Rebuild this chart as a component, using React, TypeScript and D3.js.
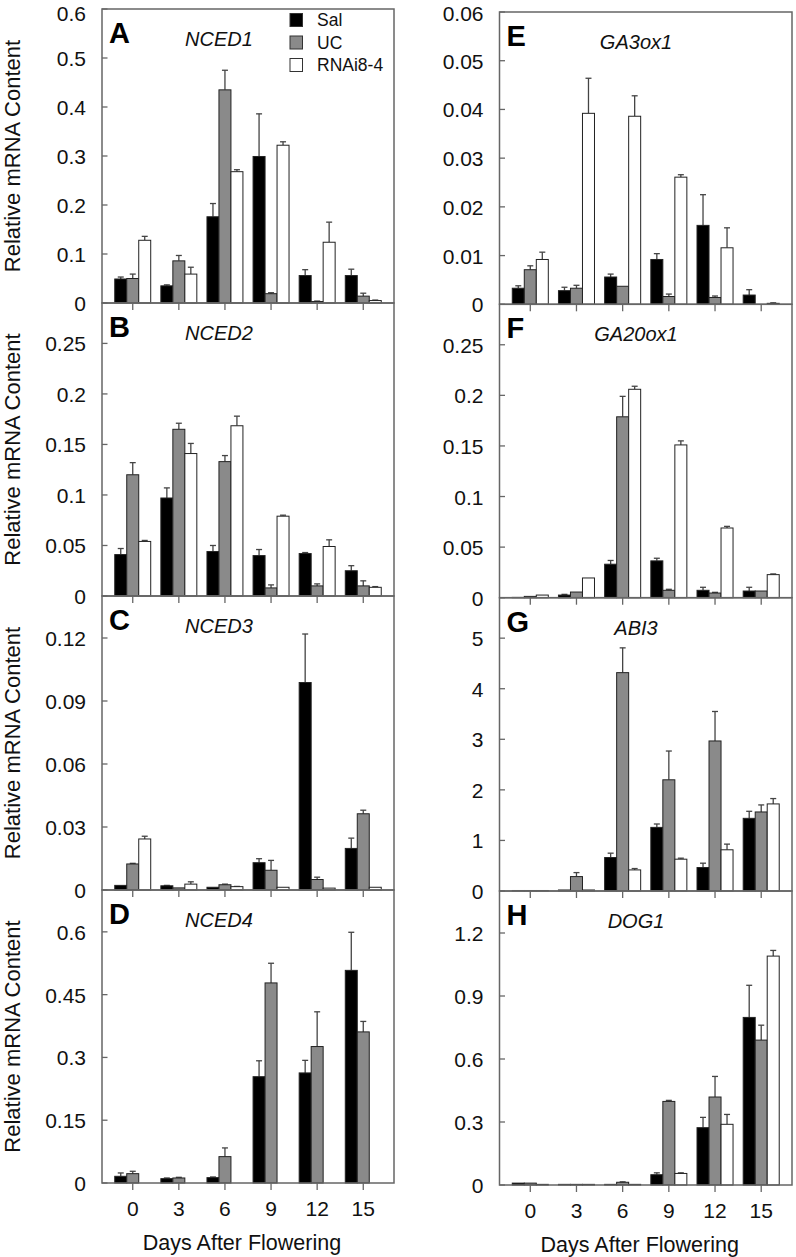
import React from "react";
import * as d3 from "d3";

const days = [0, 3, 6, 9, 12, 15];
const seriesNames = ["Sal", "UC", "RNAi8-4"];
const seriesFill = ["#000000", "#8a8a8a", "#ffffff"];

// Panel A NCED1
const nced1Sal = [0.049, 0.035, 0.176, 0.299, 0.056, 0.056];
const nced1SalErr = [0.004, 0.002, 0.027, 0.087, 0.012, 0.013];
const nced1UC = [0.05, 0.086, 0.435, 0.019, 0.003, 0.014];
const nced1UCErr = [0.009, 0.011, 0.04, 0.002, 0.001, 0.006];
const nced1RNAi = [0.128, 0.059, 0.268, 0.322, 0.124, 0.005];
const nced1RNAiErr = [0.008, 0.014, 0.004, 0.007, 0.041, 0.001];

// Panel B NCED2
const nced2Sal = [0.041, 0.097, 0.044, 0.04, 0.042, 0.025];
const nced2SalErr = [0.006, 0.01, 0.006, 0.006, 0.001, 0.005];
const nced2UC = [0.12, 0.165, 0.133, 0.008, 0.01, 0.01];
const nced2UCErr = [0.012, 0.006, 0.006, 0.003, 0.002, 0.005];
const nced2RNAi = [0.054, 0.141, 0.1685, 0.079, 0.049, 0.0086];
const nced2RNAiErr = [0.001, 0.01, 0.0095, 0.001, 0.0066, 0.0007];

// Panel C NCED3
const nced3Sal = [0.0022, 0.002, 0.0013, 0.013, 0.0988, 0.0198];
const nced3SalErr = [0, 0.0002, 0, 0.0019, 0.0231, 0.0049];
const nced3UC = [0.0124, 0.001, 0.0025, 0.0094, 0.005, 0.0363];
const nced3UCErr = [0.0003, 0, 0.0003, 0.0047, 0.0011, 0.0017];
const nced3RNAi = [0.0243, 0.0028, 0.0016, 0.0013, 0.0009, 0.0013];
const nced3RNAiErr = [0.0013, 0.0011, 0.0001, 0, 0, 0];

// Panel D NCED4
const nced4Sal = [0.016, 0.0104, 0.0128, 0.254, 0.263, 0.508];
const nced4SalErr = [0.008, 0.0016, 0.0016, 0.038, 0.03, 0.091];
const nced4UC = [0.0223, 0.012, 0.063, 0.478, 0.326, 0.361];
const nced4UCErr = [0.0057, 0.0016, 0.0208, 0.047, 0.083, 0.025];
const nced4RNAi = [0, 0, 0, 0, 0, 0];
const nced4RNAiErr = [0, 0, 0, 0, 0, 0];

// Panel E GA3ox1
const ga3Sal = [0.0033, 0.0028, 0.0056, 0.0092, 0.0162, 0.0019];
const ga3SalErr = [0.0005, 0.0007, 0.0006, 0.0012, 0.0063, 0.0011];
const ga3UC = [0.0071, 0.0033, 0.0037, 0.0016, 0.0014, 0];
const ga3UCErr = [0.0008, 0.0006, 0, 0.0005, 0.0003, 0];
const ga3RNAi = [0.0092, 0.0392, 0.0386, 0.0261, 0.0116, 0.0002];
const ga3RNAiErr = [0.0015, 0.0072, 0.0042, 0.0005, 0.0041, 0.0001];

// Panel F GA20ox1
const ga20Sal = [0.0003, 0.0026, 0.0331, 0.0364, 0.0073, 0.0066];
const ga20SalErr = [0, 0.0007, 0.0037, 0.0026, 0.003, 0.0037];
const ga20UC = [0.0013, 0.0056, 0.1788, 0.0073, 0.0046, 0.0066];
const ga20UCErr = [0, 0, 0.0202, 0.001, 0.0007, 0];
const ga20RNAi = [0.0026, 0.0195, 0.206, 0.151, 0.0689, 0.0228];
const ga20RNAiErr = [0, 0, 0.003, 0.004, 0.0016, 0.0007];

// Panel G ABI3
const abi3Sal = [0.01, 0.02, 0.662, 1.258, 0.464, 1.437];
const abi3SalErr = [0, 0, 0.086, 0.067, 0.086, 0.139];
const abi3UC = [0.01, 0.285, 4.318, 2.199, 2.967, 1.563];
const abi3UCErr = [0, 0.079, 0.49, 0.569, 0.583, 0.139];
const abi3RNAi = [0.01, 0.02, 0.417, 0.629, 0.815, 1.722];
const abi3RNAiErr = [0, 0, 0.027, 0.02, 0.112, 0.106];

// Panel H DOG1
const dog1Sal = [0.009, 0.003, 0.003, 0.049, 0.273, 0.798];
const dog1SalErr = [0, 0, 0, 0.009, 0.049, 0.153];
const dog1UC = [0.009, 0.003, 0.013, 0.398, 0.419, 0.69];
const dog1UCErr = [0, 0, 0.002, 0.005, 0.098, 0.071];
const dog1RNAi = [0.003, 0.003, 0.003, 0.055, 0.289, 1.09];
const dog1RNAiErr = [0, 0, 0, 0.003, 0.047, 0.027];

const yTicksA = [0, 0.1, 0.2, 0.3, 0.4, 0.5, 0.6];
const yTicksB = [0, 0.05, 0.1, 0.15, 0.2, 0.25];
const yTicksC = [0, 0.03, 0.06, 0.09, 0.12];
const yTicksD = [0, 0.15, 0.3, 0.45, 0.6];
const yTicksE = [0, 0.01, 0.02, 0.03, 0.04, 0.05, 0.06];
const yTicksF = [0, 0.05, 0.1, 0.15, 0.2, 0.25];
const yTicksG = [0, 1, 2, 3, 4, 5];
const yTicksH = [0, 0.3, 0.6, 0.9, 1.2];

type Panel = {
  letter: string;
  gene: string;
  col: number;
  row: number;
  ymax: number;
  ticks: number[];
  vals: number[][];
  errs: number[][];
};

const panels: Panel[] = [
  { letter: "A", gene: "NCED1", col: 0, row: 0, ymax: 0.6, ticks: yTicksA, vals: [nced1Sal, nced1UC, nced1RNAi], errs: [nced1SalErr, nced1UCErr, nced1RNAiErr] },
  { letter: "B", gene: "NCED2", col: 0, row: 1, ymax: 0.29, ticks: yTicksB, vals: [nced2Sal, nced2UC, nced2RNAi], errs: [nced2SalErr, nced2UCErr, nced2RNAiErr] },
  { letter: "C", gene: "NCED3", col: 0, row: 2, ymax: 0.14, ticks: yTicksC, vals: [nced3Sal, nced3UC, nced3RNAi], errs: [nced3SalErr, nced3UCErr, nced3RNAiErr] },
  { letter: "D", gene: "NCED4", col: 0, row: 3, ymax: 0.7, ticks: yTicksD, vals: [nced4Sal, nced4UC, nced4RNAi], errs: [nced4SalErr, nced4UCErr, nced4RNAiErr] },
  { letter: "E", gene: "GA3ox1", col: 1, row: 0, ymax: 0.06, ticks: yTicksE, vals: [ga3Sal, ga3UC, ga3RNAi], errs: [ga3SalErr, ga3UCErr, ga3RNAiErr] },
  { letter: "F", gene: "GA20ox1", col: 1, row: 1, ymax: 0.29, ticks: yTicksF, vals: [ga20Sal, ga20UC, ga20RNAi], errs: [ga20SalErr, ga20UCErr, ga20RNAiErr] },
  { letter: "G", gene: "ABI3", col: 1, row: 2, ymax: 5.8, ticks: yTicksG, vals: [abi3Sal, abi3UC, abi3RNAi], errs: [abi3SalErr, abi3UCErr, abi3RNAiErr] },
  { letter: "H", gene: "DOG1", col: 1, row: 3, ymax: 1.4, ticks: yTicksH, vals: [dog1Sal, dog1UC, dog1RNAi], errs: [dog1SalErr, dog1UCErr, dog1RNAiErr] },
];

const W = 796;
const H = 1257;
const colX = [
  [102, 394],
  [499.5, 792],
];
const rowY = [
  [9, 303, 596, 890, 1183],
  [12, 304.3, 597.7, 891, 1185],
];
const geneCx = [219, 636];
const FONT = "Arial, 'Liberation Sans', Helvetica, sans-serif";
const barW = 0.78; // in days
const fmt = (v: number) => String(+v.toFixed(3));

function PanelView({ p }: { p: Panel }) {
  const [x0, x1] = colX[p.col];
  const yTop = rowY[p.col][p.row];
  const yBot = rowY[p.col][p.row + 1];
  const x = d3.scaleLinear().domain([-2, 17]).range([x0, x1]);
  const y = d3.scaleLinear().domain([0, p.ymax]).range([yBot, yTop]);
  const bw = x(barW) - x(0);
  return (
    <g>
      {p.vals.map((arr, si) =>
        arr.map((v, di) => {
          if (!v) return null;
          const left = x(days[di] + (si - 1.5) * barW);
          const yt = y(v);
          const e = p.errs[si][di];
          const cx = left + bw / 2;
          return (
            <g key={`${si}-${di}`}>
              {e > 0 && (
                <g stroke="#444" strokeWidth={1.3}>
                  <line x1={cx} x2={cx} y1={yt} y2={y(v + e)} />
                  <line x1={cx - 3} x2={cx + 3} y1={y(v + e)} y2={y(v + e)} />
                </g>
              )}
              <rect x={left} y={yt} width={bw} height={Math.max(0, yBot - yt)} fill={seriesFill[si]} stroke="#222" strokeWidth={1} />
            </g>
          );
        })
      )}
      <rect x={x0} y={yTop} width={x1 - x0} height={yBot - yTop} fill="none" stroke="#666" strokeWidth={1.5} />
      {p.ticks.map((t) => (
        <g key={t}>
          <line x1={x0} x2={x0 + 5.5} y1={y(t)} y2={y(t)} stroke="#666" strokeWidth={1.3} />
          <text x={x0 - 16} y={Math.max(y(t) + 8, 21)} textAnchor="end" fontSize={21} fontFamily={FONT} fill="#111">
            {fmt(t)}
          </text>
        </g>
      ))}
      {days.map((d) => (
        <line key={d} x1={x(d)} x2={x(d)} y1={yBot} y2={yBot + 7} stroke="#666" strokeWidth={1.3} />
      ))}
      <text x={x0 + 7} y={yTop + 34} fontSize={29} fontWeight="bold" fontFamily={FONT} fill="#000">
        {p.letter}
      </text>
      <text x={geneCx[p.col]} y={yTop + 37} textAnchor="middle" fontSize={20} fontStyle="italic" fontFamily={FONT} fill="#111">
        {p.gene}
      </text>
      {p.col === 0 && (
        <text transform={`translate(20,${(yTop + yBot) / 2}) rotate(-90)`} textAnchor="middle" fontSize={22} fontFamily={FONT} fill="#111">
          Relative mRNA Content
        </text>
      )}
      {p.row === 3 && (
        <g>
          {days.map((d) => (
            <text key={d} x={x(d)} y={yBot + 33} textAnchor="middle" fontSize={21} fontFamily={FONT} fill="#111">
              {d}
            </text>
          ))}
          <text x={(x0 + x1) / 2 - 6} y={yBot + 67} textAnchor="middle" fontSize={21.5} fontFamily={FONT} fill="#111">
            Days After Flowering
          </text>
        </g>
      )}
    </g>
  );
}

function Legend() {
  return (
    <g>
      {seriesNames.map((s, i) => (
        <g key={s}>
          <rect x={290} y={13.5 + i * 22.5} width={12.5} height={13} fill={seriesFill[i]} stroke="#333" strokeWidth={1} />
          <text x={317} y={26 + i * 22.5} fontSize={17.5} fontFamily={FONT} fill="#111">
            {s}
          </text>
        </g>
      ))}
    </g>
  );
}

export default function App() {
  return (
    <svg width={W} height={H} viewBox={`0 0 ${W} ${H}`} style={{ position: "absolute", left: 0, top: 0, background: "#fff" }}>
      <rect x={0} y={0} width={W} height={H} fill="#fff" />
      {panels.map((p) => (
        <PanelView key={p.letter} p={p} />
      ))}
      <Legend />
    </svg>
  );
}
